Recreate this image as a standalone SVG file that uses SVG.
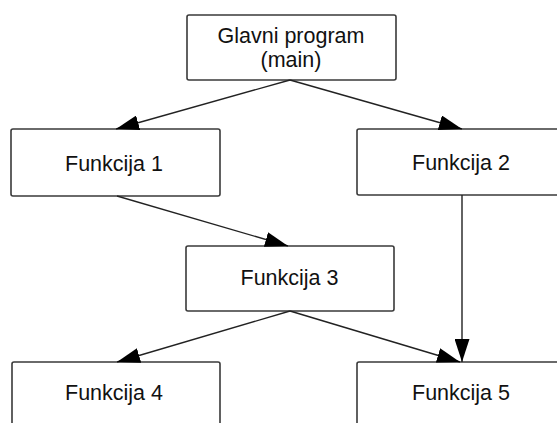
<svg xmlns="http://www.w3.org/2000/svg" width="557" height="423" viewBox="0 0 557 423">
<defs>
<style>
.box{fill:#fff;stroke:#3a3a3a;stroke-width:1.6}
.t{font-family:"Liberation Sans",Arial,sans-serif;font-size:21.5px;fill:#111;text-anchor:middle}
.c{stroke:#222;stroke-width:1.4;fill:none;marker-end:url(#ah)}
</style>
<marker id="ah" viewBox="0 0 23 15" refX="23" refY="7.5" markerWidth="23" markerHeight="15" markerUnits="userSpaceOnUse" orient="auto">
<path d="M0,0 L23,7.5 L0,15 z" fill="#000"/>
</marker>
</defs>
<rect width="557" height="423" fill="#fff"/>
<g id="main"><rect class="box" x="187" y="15" width="209" height="65" rx="2"/>
<text class="t" x="291" y="43">Glavni program</text><text class="t" x="291" y="67">(main)</text></g>
<g id="f1"><rect class="box" x="11" y="129" width="209" height="67" rx="2"/><text class="t" x="114" y="171">Funkcija 1</text></g>
<g id="f2"><rect class="box" x="357" y="129" width="208" height="66" rx="2"/><text class="t" x="461" y="170">Funkcija 2</text></g>
<g id="f3"><rect class="box" x="186" y="246" width="208" height="65" rx="2"/><text class="t" x="289.5" y="285">Funkcija 3</text></g>
<g id="f4"><rect class="box" x="12" y="362" width="208" height="66" rx="2"/><text class="t" x="114" y="400">Funkcija 4</text></g>
<g id="f5"><rect class="box" x="357" y="362" width="208" height="66" rx="2"/><text class="t" x="461" y="400">Funkcija 5</text></g>
<g id="connectors">
<line class="c" x1="290" y1="80" x2="116" y2="129"/>
<line class="c" x1="290" y1="80" x2="462" y2="129"/>
<line class="c" x1="117" y1="196" x2="288" y2="246"/>
<line class="c" x1="462" y1="195" x2="462" y2="362"/>
<line class="c" x1="290" y1="311" x2="117" y2="362"/>
<line class="c" x1="290" y1="311" x2="460" y2="362"/>
</g>
</svg>
